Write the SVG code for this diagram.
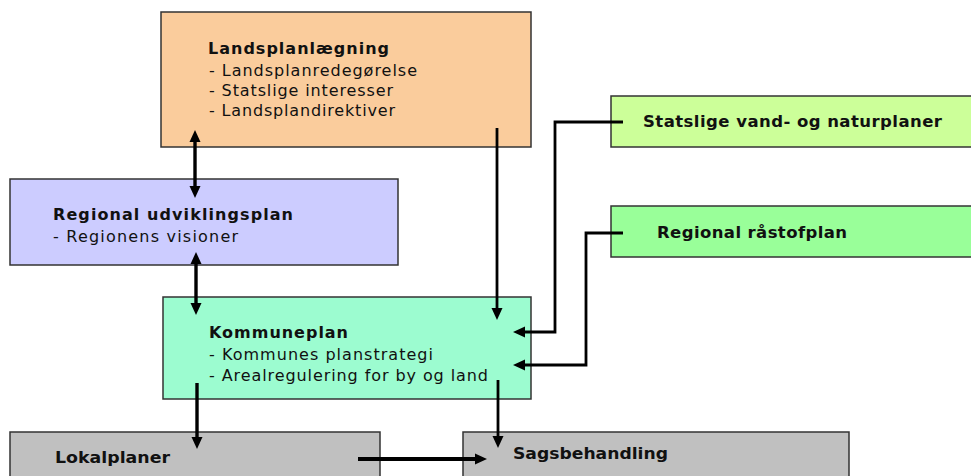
<svg xmlns="http://www.w3.org/2000/svg" width="971" height="476" viewBox="0 0 971 476">
<style>
.box{stroke:#333;stroke-width:1.5}
.t{font-family:"DejaVu Sans",Verdana,sans-serif;font-size:16px;fill:#111}
.b{font-weight:bold}
.big{font-size:16.5px}
.c{fill:none;stroke:#000;stroke-width:2.8}
.th{stroke-width:3.4}
</style>
<defs>
<marker id="ah" markerUnits="userSpaceOnUse" markerWidth="13" markerHeight="12" refX="1" refY="6" orient="auto-start-reverse">
<path d="M0,0.5 L12,6 L0,11.5 z" fill="#000"/>
</marker>
</defs>
<rect width="971" height="476" fill="#fff"/>
<g id="landsplan">
<rect class="box" x="161" y="12" width="370" height="135" fill="#FACC9C"/>
<text class="t b" x="208" y="54" textLength="181" lengthAdjust="spacing">Landsplanlægning</text>
<text class="t" x="209" y="76" textLength="208" lengthAdjust="spacing">- Landsplanredegørelse</text>
<text class="t" x="209" y="96" textLength="184" lengthAdjust="spacing">- Statslige interesser</text>
<text class="t" x="209" y="116" textLength="186" lengthAdjust="spacing">- Landsplandirektiver</text>
</g>
<g id="regional">
<rect class="box" x="10" y="179" width="388" height="86" fill="#CCCCFF"/>
<text class="t b" x="53" y="220" textLength="240" lengthAdjust="spacing">Regional udviklingsplan</text>
<text class="t" x="53" y="242" textLength="185" lengthAdjust="spacing">- Regionens visioner</text>
</g>
<g id="kommuneplan">
<rect class="box" x="163" y="297" width="368" height="102" fill="#9CFCD0"/>
<text class="t b" x="209" y="338" textLength="139" lengthAdjust="spacing">Kommuneplan</text>
<text class="t" x="209" y="360" textLength="224" lengthAdjust="spacing">- Kommunes planstrategi</text>
<text class="t" x="209" y="381" textLength="279" lengthAdjust="spacing">- Arealregulering for by og land</text>
</g>
<g id="statslige">
<rect class="box" x="611" y="96" width="365" height="51" fill="#CCFF99"/>
<text class="t b big" x="643" y="127" textLength="299" lengthAdjust="spacing">Statslige vand- og naturplaner</text>
</g>
<g id="raastof">
<rect class="box" x="611" y="206" width="365" height="51" fill="#99FF99"/>
<text class="t b big" x="657" y="238" textLength="190" lengthAdjust="spacing">Regional råstofplan</text>
</g>
<g id="lokalplaner">
<rect class="box" x="10" y="432" width="370" height="60" fill="#C0C0C0"/>
<text class="t b big" x="55" y="463" textLength="115" lengthAdjust="spacingAndGlyphs">Lokalplaner</text>
</g>
<g id="sagsbehandling">
<rect class="box" x="463" y="432" width="386" height="60" fill="#C0C0C0"/>
<text class="t b big" x="513" y="459" textLength="155" lengthAdjust="spacingAndGlyphs">Sagsbehandling</text>
</g>
<g id="connectors">
<line class="c th" x1="195" y1="141" x2="195" y2="187" marker-start="url(#ah)" marker-end="url(#ah)"/>
<line class="c th" x1="196" y1="263" x2="196" y2="304" marker-start="url(#ah)" marker-end="url(#ah)"/>
<line class="c" x1="497" y1="128" x2="497" y2="309" marker-end="url(#ah)"/>
<path class="c" d="M623,122 H555 V332 H524" marker-end="url(#ah)"/>
<path class="c" d="M623,233 H586 V365 H524" marker-end="url(#ah)"/>
<line class="c th" x1="197" y1="383" x2="197" y2="438" marker-end="url(#ah)"/>
<line class="c" x1="498" y1="380" x2="498" y2="437" marker-end="url(#ah)"/>
<line class="c" style="stroke-width:4.2" x1="358" y1="459" x2="476" y2="459" marker-end="url(#ah)"/>
</g>
</svg>
